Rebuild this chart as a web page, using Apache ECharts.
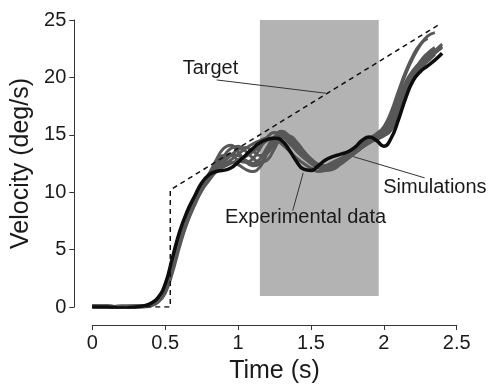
<!DOCTYPE html>
<html>
<head>
<meta charset="utf-8">
<script src="https://cdn.jsdelivr.net/npm/echarts@6/dist/echarts.min.js"></script>
<style>
  html, body { margin: 0; padding: 0; background: #fff; }
  #chart { width: 488px; height: 389px; }
</style>
</head>
<body>
<div id="chart"></div>
<script>
// time base (s)
const time = [0,0.1,0.2,0.3,0.35,0.4,0.45,0.5,0.55,0.6,0.65,0.7,0.75,0.8,0.85,0.9,0.95,1.0,1.05,1.1,1.15,1.2,1.25,1.3,1.35,1.4,1.45,1.5,1.55,1.6,1.65,1.7,1.75,1.8,1.85,1.9,1.95,2.0,2.05,2.1,2.15,2.2,2.25,2.3,2.35,2.4]

// experimental velocity (deg/s)
const experimental = [0.0,0.0,-0.1,0.0,0.1,0.3,0.8,2.0,4.3,6.6,8.3,9.6,10.8,11.5,11.8,11.9,12.1,12.6,13.2,13.8,14.3,14.6,14.7,14.5,13.7,12.7,12.0,11.9,12.3,12.8,13.1,13.3,13.5,13.9,14.5,14.8,14.5,14.0,14.7,16.3,18.2,19.7,20.5,21.0,21.5,22.1]

// simulation runs
const sim1 = [0.1,0.0,0.0,0.0,0.1,0.2,0.6,1.6,3.7,6.0,7.9,9.3,10.5,11.4,12.2,12.9,13.3,13.2,12.8,12.5,12.9,13.9,14.8,15.0,14.5,13.8,13.1,12.5,12.2,12.3,12.6,12.9,13.2,13.7,14.2,14.6,15.0,15.3,15.8,17.2,18.9,20.2,21.0,21.6,22.2,22.7]
const sim2 = [0.0,-0.1,0.0,0.1,0.1,0.2,0.5,1.4,3.4,5.7,7.6,9.0,10.3,11.5,12.8,13.8,14.1,13.5,12.7,12.3,12.5,13.5,14.8,15.3,14.9,14.1,13.3,12.6,12.1,12.0,12.3,12.7,13.1,13.6,14.1,14.5,14.9,15.6,16.8,18.6,20.3,21.7,22.8,23.6,23.9,null]
const sim3 = [0.1,0.1,0.0,0.0,0.0,0.2,0.5,1.3,3.2,5.5,7.4,8.9,10.2,11.2,12.2,13.1,13.8,14.0,13.6,13.0,12.6,12.8,13.8,14.8,14.9,14.4,13.6,12.8,12.2,11.9,12.0,12.4,12.9,13.4,13.9,14.3,14.7,15.0,15.6,17.0,18.7,20.0,20.8,21.4,22.0,null]
const sim4 = [0.0,0.0,-0.1,0.0,0.1,0.3,0.7,1.8,4.0,6.3,8.1,9.5,10.7,11.5,12.0,12.4,12.8,13.3,13.8,14.2,14.5,14.7,14.6,14.2,13.6,13.0,12.5,12.1,11.8,11.9,12.2,12.6,13.0,13.5,14.0,14.4,14.8,15.2,16.0,17.6,19.2,20.3,21.0,21.6,22.3,22.9]
const sim5 = [0.0,0.0,0.0,0.0,0.0,0.1,0.4,1.2,3.0,5.3,7.3,8.8,10.1,11.0,11.8,12.4,12.6,12.4,12.0,11.8,12.2,13.4,14.6,15.1,14.8,14.2,13.4,12.7,12.2,12.1,12.4,12.8,13.2,13.6,14.0,14.4,14.9,15.4,16.4,18.0,19.6,20.6,21.3,21.9,22.4,null]
const sim6 = [0.1,0.0,0.1,0.1,0.1,0.3,0.6,1.5,3.6,5.9,7.8,9.2,10.4,11.3,12.0,12.6,13.2,13.7,13.9,13.6,13.2,13.4,14.2,14.9,14.8,14.2,13.5,12.9,12.4,12.2,12.3,12.6,13.0,13.4,13.9,14.4,14.8,15.2,16.0,17.4,19.0,20.4,21.4,22.1,22.6,null]
const sim7 = [0.0,0.0,0.0,0.0,0.1,0.2,0.5,1.3,3.3,5.6,7.5,9.0,10.4,11.6,12.6,13.2,13.2,12.8,12.6,12.9,13.8,14.8,15.2,14.9,14.3,13.6,13.0,12.6,12.3,12.3,12.6,12.9,13.3,13.8,14.3,14.7,15.1,15.7,17.0,18.8,20.5,21.9,22.9,23.4,null,null]
const sim8 = [0.1,0.1,0.0,0.0,0.0,0.2,0.6,1.6,3.8,6.1,8.0,9.4,10.6,11.4,11.9,12.2,12.5,12.8,13.1,13.5,14.0,14.5,14.8,14.9,14.6,14.1,13.5,12.9,12.4,12.2,12.3,12.5,12.9,13.4,13.9,14.3,14.6,14.9,15.4,16.8,18.5,19.9,20.8,21.5,22.1,22.6]
const sims = [sim1, sim2, sim3, sim4, sim5, sim6, sim7, sim8]

// target profile
const targetTime = [0, 0.535, 0.535, 2.385]
const targetVel = [0, 0, 10.2, 24.65]

// shaded window
const windowTime = [1.15, 1.965]
const windowVel = [0.95, 25]

// annotations
const annoText = ['Target', 'Simulations', 'Experimental data']
const annoAt = [[0.62, 20.8], [1.996, 10.4], [0.91, 7.8]]
const leaderFrom = [[0.853, 19.78], [1.79, 13.1], [1.447, 11.68]]
const leaderTo = [[1.603, 18.62], [2.28, 11.25], [1.375, 8.4]]

const FONT = 'Liberation Sans, Arial, sans-serif'
const pair = (xs, ys) => xs.map((x, i) => [x, ys[i]])

const chart = echarts.init(document.getElementById('chart'))

const series = []
series.push({
    type: 'line',
    data: [],
    z: 1,
    silent: true,
    markArea: {
        silent: true,
        itemStyle: {color: '#b3b3b3'},
        data: [[
            {coord: [windowTime[0], windowVel[0]]},
            {coord: [windowTime[1], windowVel[1]]}
        ]]
    }
})
sims.forEach(s => {
    series.push({
        type: 'line',
        data: pair(time, s),
        smooth: true,
        showSymbol: false,
        connectNulls: false,
        z: 3,
        lineStyle: {color: '#585858', width: 3}
    })
})
series.push({
    type: 'line',
    data: pair(targetTime, targetVel),
    showSymbol: false,
    z: 4,
    lineStyle: {color: '#111', width: 1.5, type: [5, 4]}
})
series.push({
    type: 'line',
    data: pair(time, experimental),
    smooth: true,
    showSymbol: false,
    z: 5,
    lineStyle: {color: '#0d0d0d', width: 3.5}
})
series.push({
    type: 'line',
    data: [],
    z: 6,
    markLine: {
        silent: true,
        symbol: ['none', 'none'],
        label: {show: false},
        lineStyle: {color: '#333', width: 1, type: 'solid'},
        data: leaderFrom.map((p, i) => [{coord: p}, {coord: leaderTo[i]}])
    }
})

chart.setOption({
    animation: false,
    backgroundColor: '#fff',
    grid: {left: 92.3, right: 31.3, top: 20, bottom: 78},
    xAxis: {
        type: 'value',
        min: 0,
        max: 2.5,
        interval: 0.5,
        offset: 18,
        name: 'Time (s)',
        nameLocation: 'middle',
        nameGap: 34,
        nameTextStyle: {fontFamily: FONT, fontSize: 25, color: '#1a1a1a'},
        axisLine: {onZero: false, lineStyle: {color: '#333', width: 1}},
        axisTick: {inside: false, length: 5, lineStyle: {color: '#333'}},
        axisLabel: {fontFamily: FONT, fontSize: 20, color: '#1a1a1a', margin: 8},
        splitLine: {show: false}
    },
    yAxis: {
        type: 'value',
        min: 0,
        max: 25,
        interval: 5,
        offset: 18,
        name: 'Velocity (deg/s)',
        nameLocation: 'middle',
        nameGap: 37,
        nameTextStyle: {fontFamily: FONT, fontSize: 25, color: '#1a1a1a'},
        axisLine: {show: true, onZero: false, lineStyle: {color: '#333', width: 1}},
        axisTick: {show: true, inside: false, length: 5, lineStyle: {color: '#333'}},
        axisLabel: {fontFamily: FONT, fontSize: 20, color: '#1a1a1a', margin: 8},
        splitLine: {show: false}
    },
    series: series
})

// put the annotation texts where their data coords land
const texts = annoText.map((t, i) => {
    const p = chart.convertToPixel({gridIndex: 0}, annoAt[i])
    return {
        type: 'text',
        x: p[0],
        y: p[1],
        z: 100,
        style: {text: t, font: '20px ' + FONT, fill: '#1a1a1a', verticalAlign: 'middle'}
    }
})
chart.setOption({graphic: texts})
</script>
</body>
</html>
